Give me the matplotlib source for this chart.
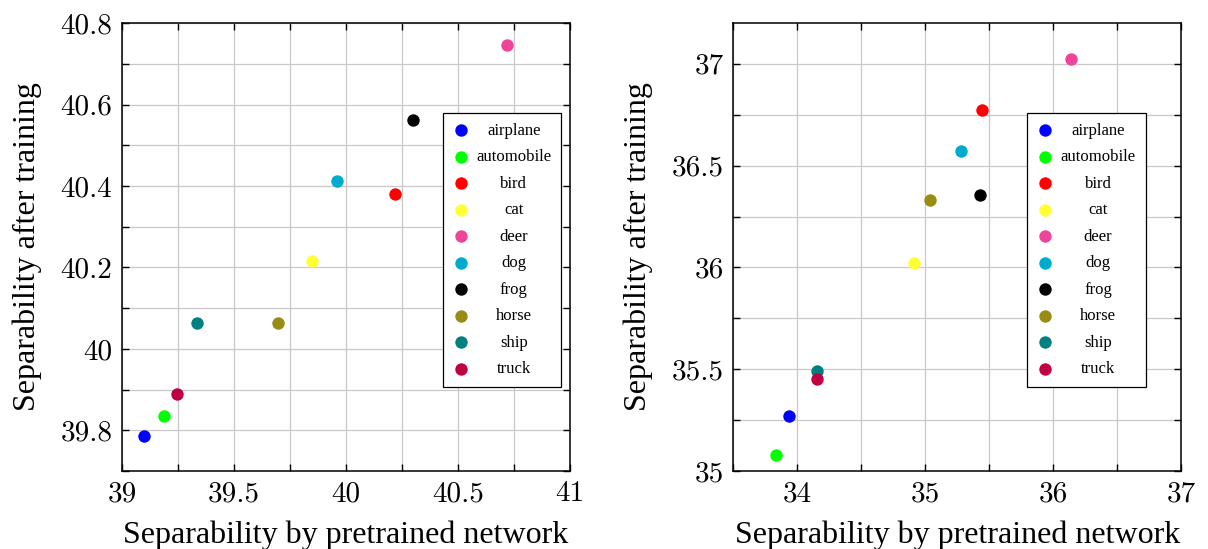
import matplotlib.pyplot as plt
from matplotlib.ticker import MultipleLocator

classes = ['airplane', 'automobile', 'bird', 'cat', 'deer',
           'dog', 'frog', 'horse', 'ship', 'truck']
colors = ['#0000ff', '#00ff00', '#ff0000', '#ffff33', '#ee4499',
          '#00aacc', '#000000', '#998c14', '#008080', '#bf0044']

# left panel
left_pre = [39.096, 39.189, 40.220, 39.848, 40.718, 39.959, 40.299, 39.698, 39.333, 39.246]
left_post = [39.787, 39.834, 40.381, 40.215, 40.745, 40.412, 40.562, 40.064, 40.064, 39.889]

# right panel
right_pre = [33.939, 33.833, 35.439, 34.915, 36.139, 35.282, 35.427, 35.033, 34.155, 34.155]
right_post = [35.271, 35.081, 36.774, 36.024, 37.024, 36.571, 36.357, 36.333, 35.490, 35.450]

plt.rcParams['font.family'] = ['Liberation Serif', 'DejaVu Serif']


def panel(ax, xs, ys, xlim, ylim, xmaj, xmin, ymaj, ymin, leg_x):
    for name, c, x, y in zip(classes, colors, xs, ys):
        ax.scatter(x, y, s=80, color=c, label=name, zorder=3, linewidths=0)
    ax.set_xlim(*xlim)
    ax.set_ylim(*ylim)
    ax.xaxis.set_major_locator(MultipleLocator(xmaj))
    ax.xaxis.set_minor_locator(MultipleLocator(xmin))
    ax.yaxis.set_major_locator(MultipleLocator(ymaj))
    ax.yaxis.set_minor_locator(MultipleLocator(ymin))
    ax.xaxis.set_major_formatter(lambda v, p: f'{v:g}')
    ax.yaxis.set_major_formatter(lambda v, p: f'{v:g}')
    ax.grid(True, which='both', color='#c8c8c8', linewidth=0.9, zorder=0)
    ax.tick_params(which='both', direction='in', top=True, right=True,
                   length=5, width=1.0, labelsize=21, pad=7)
    for lab in ax.get_xticklabels() + ax.get_yticklabels():
        lab.set_family('cmr10')
    for sp in ax.spines.values():
        sp.set_linewidth(1.1)
    ax.set_xlabel('Separability by pretrained network', fontsize=23, labelpad=10)
    ax.set_ylabel('Separability after training', fontsize=23, labelpad=13)
    leg = ax.legend(loc='upper right', bbox_to_anchor=(leg_x, 0.80), fontsize=12,
                    frameon=True, fancybox=False, edgecolor='black', framealpha=1,
                    handletextpad=0.4, borderpad=0.6, labelspacing=0.63,
                    handlelength=1.0, borderaxespad=0)
    leg.get_frame().set_linewidth(0.9)
    return leg


fig = plt.figure(figsize=(12.08, 5.49), dpi=100)
ax1 = fig.add_axes([0.101, 0.142, 0.371, 0.816])
ax2 = fig.add_axes([0.607, 0.142, 0.371, 0.816])

legs = [
    panel(ax1, left_pre, left_post, (39, 41), (39.7, 40.8), 0.5, 0.25, 0.2, 0.1, 0.98),
    panel(ax2, right_pre, right_post, (33.5, 37), (35, 37.2), 1, 0.5, 0.5, 0.25, 0.92),
]

# centre the legend entries like pgfplots does
fig.canvas.draw()
for leg in legs:
    texts = leg.get_texts()
    widths = [t.get_window_extent().width for t in texts]
    maxw = max(widths)
    for t, w in zip(texts, widths):
        t.set_position(((maxw - w) / 2, 0))

fig.savefig('out.png', dpi=100)
